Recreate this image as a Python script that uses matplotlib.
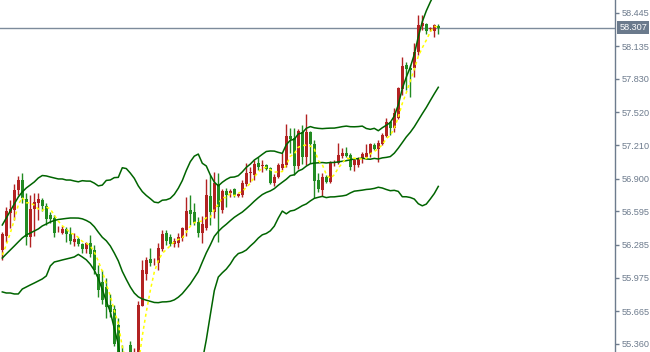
import numpy as np
import pandas as pd
import matplotlib
matplotlib.use("Agg")
import matplotlib.pyplot as plt
import matplotlib.transforms as mtransforms

# ---------------- data (prices) ----------------
opens = [56.236, 56.366, 56.581, 56.609, 56.795, 56.888, 56.711, 56.357, 56.618, 56.674,
         56.702, 56.646, 56.562, 56.534, 56.432, 56.394, 56.432, 56.385, 56.311, 56.338,
         56.292, 56.245, 56.301, 56.236, 56.012, 55.938, 55.891, 55.723, 55.686, 55.537,
         55.248, 54.745, 55.351, 55.099, 55.164, 55.714, 56.012, 56.152, 56.124, 56.115,
         56.245, 56.394, 56.357, 56.292, 56.301, 56.348, 56.422, 56.609, 56.590, 56.497,
         56.394, 56.441, 56.739, 56.590, 56.851, 56.609, 56.786, 56.767, 56.805, 56.739,
         56.749, 56.851, 56.954, 56.935, 57.047, 57.019, 57.028, 57.000, 56.860, 56.916,
         57.000, 57.028, 57.299, 57.280, 57.019, 57.336, 57.103, 57.336, 57.224, 56.888,
         56.795, 56.916, 56.870, 57.047, 57.047, 57.112, 57.140, 57.121, 57.028, 57.028,
         57.084, 57.103, 57.131, 57.215, 57.177, 57.224, 57.299, 57.429, 57.373, 57.466,
         57.737, 57.960, 57.932, 57.932, 58.081, 58.324, 58.342, 58.296, 58.277, 58.324]
highs = [56.404, 56.637, 56.702, 56.851, 56.926, 56.954, 56.767, 56.749, 56.767, 56.767,
         56.721, 56.674, 56.590, 56.562, 56.460, 56.460, 56.450, 56.450, 56.394, 56.357,
         56.301, 56.311, 56.376, 56.283, 56.096, 56.050, 55.975, 55.826, 55.723, 55.602,
         55.351, 55.071, 55.388, 55.323, 55.761, 56.143, 56.171, 56.255, 56.161, 56.301,
         56.422, 56.422, 56.385, 56.348, 56.394, 56.450, 56.730, 56.749, 56.674, 56.544,
         56.553, 56.898, 56.935, 56.963, 56.954, 56.805, 56.814, 56.805, 56.814, 56.767,
         56.888, 57.047, 57.010, 57.075, 57.103, 57.075, 57.038, 57.010, 56.944, 57.047,
         57.140, 57.410, 57.373, 57.373, 57.364, 57.401, 57.504, 57.345, 57.261, 56.954,
         56.954, 56.935, 57.066, 57.075, 57.233, 57.187, 57.196, 57.140, 57.084, 57.103,
         57.149, 57.224, 57.233, 57.233, 57.261, 57.326, 57.466, 57.438, 57.559, 57.755,
         58.035, 57.988, 57.960, 58.165, 58.426, 58.426, 58.352, 58.314, 58.342, 58.342]
lows = [56.143, 56.311, 56.441, 56.516, 56.749, 56.674, 56.283, 56.264, 56.366, 56.516,
        56.600, 56.469, 56.488, 56.357, 56.404, 56.385, 56.311, 56.292, 56.273, 56.273,
        56.208, 56.208, 56.171, 56.012, 55.798, 55.733, 55.602, 55.612, 55.341, 55.211,
        54.652, 54.698, 54.978, 55.043, 55.136, 55.714, 55.956, 56.087, 56.096, 56.050,
        56.227, 56.283, 56.273, 56.264, 56.264, 56.320, 56.366, 56.469, 56.469, 56.357,
        56.301, 56.422, 56.469, 56.534, 56.311, 56.581, 56.637, 56.730, 56.730, 56.730,
        56.730, 56.833, 56.870, 56.888, 56.982, 56.963, 56.982, 56.851, 56.833, 56.907,
        56.982, 57.010, 57.140, 56.935, 56.991, 57.038, 57.028, 57.047, 56.721, 56.777,
        56.739, 56.860, 56.860, 57.019, 57.038, 57.093, 57.103, 56.982, 56.972, 57.010,
        57.047, 57.093, 57.103, 57.168, 57.056, 57.215, 57.289, 57.308, 57.336, 57.457,
        57.681, 57.727, 57.662, 57.848, 58.053, 58.286, 58.249, 58.277, 58.221, 58.249]
closes = [56.385, 56.600, 56.618, 56.795, 56.888, 56.721, 56.357, 56.618, 56.683, 56.711,
          56.646, 56.525, 56.525, 56.394, 56.432, 56.432, 56.385, 56.320, 56.338, 56.292,
          56.245, 56.301, 56.199, 56.050, 55.863, 55.770, 55.705, 55.658, 55.360, 55.248,
          54.689, 55.024, 55.118, 55.257, 55.723, 56.050, 56.143, 56.115, 56.124, 56.255,
          56.385, 56.320, 56.292, 56.320, 56.357, 56.441, 56.600, 56.572, 56.488, 56.394,
          56.478, 56.749, 56.590, 56.860, 56.637, 56.786, 56.749, 56.786, 56.749, 56.758,
          56.860, 56.954, 56.963, 57.038, 57.010, 57.028, 56.991, 56.860, 56.916, 57.028,
          57.038, 57.299, 57.271, 57.019, 57.345, 57.103, 57.336, 57.224, 56.879, 56.805,
          56.916, 56.870, 57.047, 57.047, 57.121, 57.140, 57.112, 57.010, 57.075, 57.093,
          57.131, 57.140, 57.224, 57.177, 57.233, 57.308, 57.429, 57.373, 57.513, 57.746,
          57.951, 57.923, 57.914, 58.081, 58.333, 58.352, 58.277, 58.305, 58.333, 58.307]

# Bollinger band values read for the first bars (history before the window)
bb_upper_head = [56.469, 56.534, 56.600, 56.665, 56.730, 56.777, 56.814, 56.842, 56.870, 56.907,
                 56.930, 56.926, 56.916, 56.907, 56.898, 56.898, 56.888, 56.888, 56.879]
bb_mid_head = [56.161, 56.199, 56.236, 56.273, 56.311, 56.348, 56.376, 56.394, 56.413, 56.432,
               56.460, 56.478, 56.497, 56.511, 56.520, 56.525, 56.530, 56.534, 56.534]
bb_lower_head = [55.845, 55.835, 55.835, 55.826, 55.826, 55.872, 55.891, 55.910, 55.928, 55.947,
                 55.966, 55.994, 56.087, 56.124, 56.133, 56.143, 56.152, 56.161, 56.171]
ma_head = [56.189, 56.283, 56.394, 56.516]

bb_period = 20
bb_dev = 2.0
ma_period = 5

y_ticks = [58.445, 58.135, 57.830, 57.520, 57.210, 56.900, 56.595, 56.285, 55.975, 55.665, 55.360]
last_price = 58.307
y_min, y_max = 55.285, 58.566

# ---------------- indicators ----------------
c = pd.Series(closes)
mid = c.rolling(bb_period).mean()
sd = c.rolling(bb_period).std(ddof=0)
upper = (mid + bb_dev * sd).to_numpy()
lower = (mid - bb_dev * sd).to_numpy()
mid = mid.to_numpy()
n_head = len(bb_upper_head)
upper[:n_head] = bb_upper_head
mid[:n_head] = bb_mid_head
lower[:n_head] = bb_lower_head
ma = c.rolling(ma_period).mean().to_numpy()
ma[:len(ma_head)] = ma_head

# ---------------- drawing ----------------
W, H = 650, 352
fig = plt.figure(figsize=(W / 100, H / 100), dpi=100)
fig.patch.set_facecolor("white")
ax = fig.add_axes([0, 0, 615 / W, 1])
ax.set_facecolor("white")

n = len(closes)
x = np.arange(n)
o = np.array(opens); h = np.array(highs); l = np.array(lows); cl = np.array(closes)
up = cl >= o
red = "#b22222"
green = "#228b22"
cols = np.where(up, red, green)

ax.vlines(x, l, h, colors=cols, linewidth=1.0, zorder=2)
body_bottom = np.minimum(o, cl)
body_h = np.maximum(np.abs(cl - o), 0.004)
ax.bar(x, body_h, bottom=body_bottom, width=0.72, color=cols, edgecolor=cols,
       linewidth=0.0, zorder=3)

band_col = "#006400"
ax.plot(x, upper, color=band_col, linewidth=1.1, zorder=4)
ax.plot(x, mid, color=band_col, linewidth=1.1, zorder=4)
ax.plot(x, lower, color=band_col, linewidth=1.1, zorder=4)
ax.plot(x, ma, color="#ffff00", linewidth=1.1, linestyle=(0, (2, 2)), zorder=5)

axis_col = "#6d7b8d"
ax.axhline(last_price, color="#7d8b9b", linewidth=1.0, zorder=1)

ax.set_xlim(-2.3 / 4, (615 - 2.3) / 4)
ax.set_ylim(y_min, y_max)
for s in ["top", "left", "bottom"]:
    ax.spines[s].set_visible(False)
ax.spines["right"].set_color(axis_col)
ax.spines["right"].set_linewidth(1.0)
ax.set_xticks([])
ax.yaxis.tick_right()
ax.set_yticks(y_ticks)
ax.set_yticklabels([f"{v:.3f}" for v in y_ticks])
ax.tick_params(axis="y", direction="out", length=3, width=1, color=axis_col,
               labelcolor=axis_col, labelsize=6.6, pad=2)
for t in ax.get_yticklabels():
    t.set_family("Liberation Sans")

trans = mtransforms.blended_transform_factory(ax.transAxes, ax.transData)
ax.text(1.007, last_price, f"{last_price:.3f}", transform=trans, ha="left", va="center",
        fontsize=6.6, family="Liberation Sans", color="white", zorder=10, clip_on=False,
        bbox=dict(boxstyle="square,pad=0.22", facecolor="#6b7a8c", edgecolor="none"))

fig.savefig("out.png", dpi=100)
